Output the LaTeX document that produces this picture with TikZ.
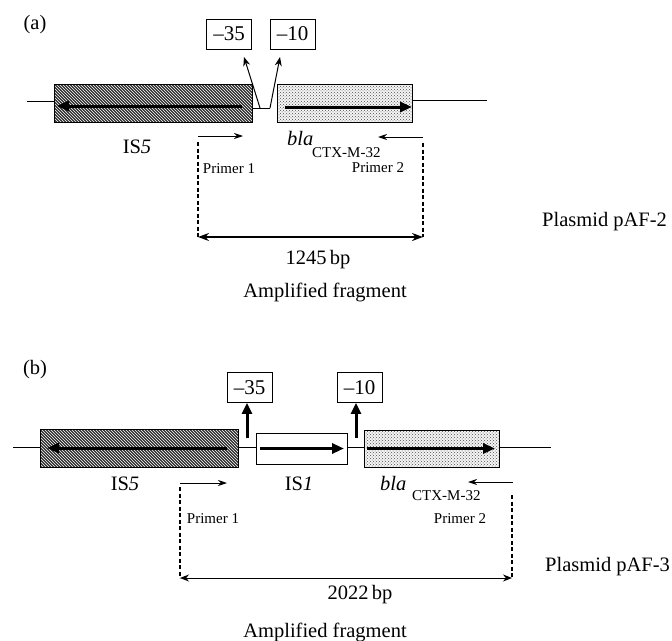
\documentclass[tikz,border=0pt]{standalone}
\usepackage{fontspec}
\setmainfont{Liberation Serif}
\usetikzlibrary{patterns,arrows.meta,calc}
\begin{document}
\begin{tikzpicture}[x=1pt,y=-1pt,
  lbl/.style={inner sep=0pt,font=\fontsize{20.5}{24}\selectfont},
  sml/.style={inner sep=0pt,font=\fontsize{15}{18}\selectfont},
  prom/.style={draw,line width=0.8pt,minimum width=45pt,minimum height=30pt,inner sep=0pt,font=\fontsize{21}{24}\selectfont},
  hatchbox/.style={draw,line width=0.8pt,inner sep=0pt,outer sep=0pt,preaction={fill=black!82},pattern=north west lines,pattern color=white},
  dotbox/.style={draw,line width=0.8pt,inner sep=0pt,outer sep=0pt,preaction={fill=black!4},pattern=crosshatch dots,pattern color=black!70},
  plainbox/.style={draw,line width=0.8pt,inner sep=0pt,outer sep=0pt,fill=white},
  backbone/.style={line width=0.8pt},
  genearrow/.style={line width=3pt,-{Triangle[length=12pt,width=10pt]}},
  promarrow/.style={line width=1pt,-{Stealth[length=9pt,width=7pt]}},
  promarrowb/.style={line width=3pt,-{Triangle[length=11pt,width=10pt]}},
  primer/.style={line width=1pt,-{Stealth[length=9pt,width=6pt]}},
  fragdash/.style={line width=1.3pt,dash pattern=on 4pt off 2.5pt},
  spana/.style={line width=2pt,{Stealth[length=11pt,width=8pt]}-{Stealth[length=11pt,width=8pt]}},
  spanb/.style={line width=1pt,{Stealth[length=9pt,width=7pt]}-{Stealth[length=9pt,width=7pt]}}
]
\useasboundingbox (0,0) rectangle (672,640);

% ---------------- panel (a) ----------------
\node[lbl] (pa) at (35,25) {(a)};
\node[prom] (m35a) at (229,34) {–35};
\node[prom] (m10a) at (292.5,34) {–10};
\node[hatchbox,minimum width=198pt,minimum height=38pt] (is5a) at (153,103) {};
\node[dotbox,minimum width=135pt,minimum height=38pt] (blaa) at (344.5,103) {};

\coordinate (la) at (27,101);
\coordinate (ra) at (487,100);
\draw[backbone] (la) -- (la -| is5a.west);
\draw[backbone] (ra -| blaa.east) -- (ra);

\coordinate (j1a) at (260,108);
\coordinate (j2a) at (270,108);
\coordinate (t35a) at (244,57);
\coordinate (t10a) at (280,57);
\draw[backbone] (j2a -| is5a.east) -- (j2a);
\draw[promarrow] (j1a) -- (t35a);
\draw[promarrow] (j2a) -- (t10a);

\draw[genearrow] ($(is5a.east)+(-10,3)$) -- ($(is5a.west)+(3,3)$);
\draw[genearrow] ($(blaa.west)+(8,4)$) -- ($(blaa.east)+(0,4)$);

\node[lbl] (is5la) at (137,147) {IS\textit{5}};
\node[lbl,anchor=base west] (blala) at (287,145) {\textit{bla}};
\node[sml,anchor=base west] (ctxa) at (312,157) {CTX-M-32};

\coordinate (p1sa) at (198,136);
\coordinate (p1ea) at (243,136);
\coordinate (p2sa) at (423,137);
\coordinate (p2ea) at (378,137);
\draw[primer] (p1sa) -- (p1ea);
\draw[primer] (p2sa) -- (p2ea);

\coordinate (d1ta) at (198,142);
\coordinate (d1ba) at (198,237);
\coordinate (d2ta) at (423,143);
\coordinate (d2ba) at (423,237);
\draw[fragdash] (d1ta) -- (d1ba);
\draw[fragdash] (d2ta) -- (d2ba);
\draw[spana] (d1ba) -- (d2ba);

\node[sml] (pr1a) at (229,169) {Primer 1};
\node[sml] (pr2a) at (378,168) {Primer 2};
\node[lbl] (bpa) at (318,260) {1245\,bp};
\node[lbl] (afa) at (325,292) {Amplified fragment};
\node[lbl,anchor=west] (pla) at (542,222) {Plasmid pAF-2};

% ---------------- panel (b) ----------------
\node[lbl] (pb) at (35,370) {(b)};
\node[prom] (m35b) at (249.5,387.5) {–35};
\node[prom] (m10b) at (359.5,387.5) {–10};
\node[hatchbox,minimum width=198pt,minimum height=38pt] (is5b) at (139,448) {};
\node[plainbox,minimum width=91pt,minimum height=31pt] (is1b) at (301.5,448.5) {};
\node[dotbox,minimum width=135pt,minimum height=37pt] (blab) at (431.5,448.5) {};

\coordinate (lb) at (13,447.5);
\coordinate (rb) at (551,447.5);
\draw[backbone] (lb) -- (lb -| is5b.west);
\draw[backbone] (is5b.east |- lb) -- (is1b.west |- lb);
\draw[backbone] (is1b.east |- lb) -- (blab.west |- lb);
\draw[backbone] (blab.east |- lb) -- (rb);

\draw[genearrow] ($(is5b.east)+(-11,0)$) -- ($(is5b.west)+(7,0)$);
\draw[genearrow] ($(is1b.west)+(4,0)$) -- ($(is1b.east)+(-3,0)$);
\draw[genearrow] ($(blab.west)+(3,0)$) -- ($(blab.east)+(-4,0)$);

\coordinate (a35b) at (247,438);
\coordinate (a10b) at (356,438);
\draw[promarrowb] (a35b) -- (a35b |- m35b.south);
\draw[promarrowb] (a10b) -- (a10b |- m10b.south);

\node[lbl] (is5lb) at (125,484) {IS\textit{5}};
\node[lbl] (is1lb) at (299,484) {IS\textit{1}};
\node[lbl,anchor=base west] (blalb) at (380,490) {\textit{bla}};
\node[sml,anchor=base west] (ctxb) at (412,500) {CTX-M-32};

\coordinate (p1sb) at (180,483);
\coordinate (p1eb) at (227,483);
\coordinate (p2sb) at (513,482);
\coordinate (p2eb) at (468,482);
\draw[primer] (p1sb) -- (p1eb);
\draw[primer] (p2sb) -- (p2eb);

\coordinate (d1tb) at (180,487);
\coordinate (d1bb) at (180,578);
\coordinate (d2tb) at (512,495);
\coordinate (d2bb) at (512,578);
\draw[fragdash] (d1tb) -- (d1bb);
\draw[fragdash] (d2tb) -- (d2bb);
\draw[spanb] (d1bb) -- (d2bb);

\node[sml] (pr1b) at (213,519) {Primer 1};
\node[sml] (pr2b) at (460,519) {Primer 2};
\node[lbl] (bpb) at (360,595) {2022\,bp};
\node[lbl] (afb) at (325,632) {Amplified fragment};
\node[lbl,anchor=west] (plb) at (545,567) {Plasmid pAF-3};
\end{tikzpicture}
\end{document}
